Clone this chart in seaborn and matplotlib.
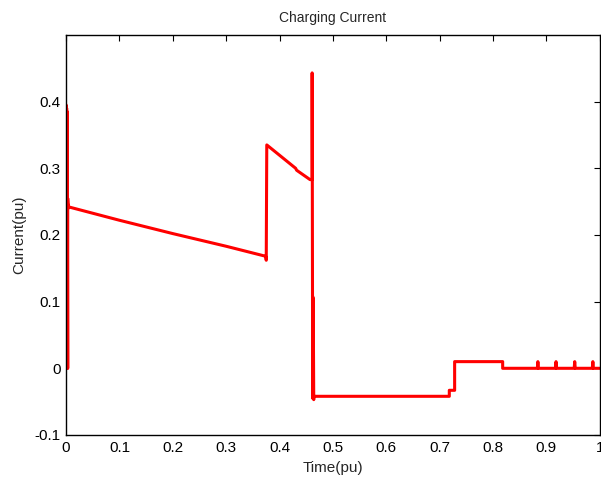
import matplotlib
matplotlib.use("Agg")
import matplotlib.pyplot as plt
import seaborn as sns
import pandas as pd

# Data
time_pu = [0.0, 0.0, 0.001, 0.001, 0.002, 0.002, 0.003, 0.003, 0.004, 0.004, 0.005,
           0.1, 0.2, 0.3, 0.374,
           0.375, 0.376, 0.43, 0.432, 0.457,
           0.461, 0.461, 0.462, 0.462, 0.463, 0.463, 0.464, 0.464,
           0.718, 0.718, 0.728, 0.728, 0.818, 0.818,
           0.883, 0.884, 0.885,
           0.917, 0.918, 0.919,
           0.952, 0.953, 0.954,
           0.986, 0.987, 0.988, 1.0]
current_pu = [0.0, 0.395, 0.0, 0.39, 0.0, 0.385, 0.0, 0.255, 0.24, 0.245, 0.242,
              0.222, 0.202, 0.183, 0.168,
              0.162, 0.335, 0.300, 0.297, 0.283,
              0.283, 0.443, -0.045, 0.108, -0.045, 0.105, -0.047, -0.042,
              -0.042, -0.033, -0.033, 0.01, 0.01, 0.0,
              0.0, 0.01, 0.0,
              0.0, 0.01, 0.0,
              0.0, 0.01, 0.0,
              0.0, 0.01, 0.0, 0.0]

x_ticks = [0, 0.1, 0.2, 0.3, 0.4, 0.5, 0.6, 0.7, 0.8, 0.9, 1]
x_tick_labels = ["0", "0.1", "0.2", "0.3", "0.4", "0.5", "0.6", "0.7", "0.8", "0.9", "1"]
y_ticks = [-0.1, 0, 0.1, 0.2, 0.3, 0.4]
y_tick_labels = ["-0.1", "0", "0.1", "0.2", "0.3", "0.4"]

df = pd.DataFrame({"Time": time_pu, "Current": current_pu})

sns.set_theme(style="white")
plt.rcParams['font.family'] = ['Liberation Sans', 'DejaVu Sans']

fig = plt.figure(figsize=(6.01, 4.78), dpi=100)
ax = fig.add_axes([0.11, 0.09, 0.888, 0.837])

sns.lineplot(data=df, x="Time", y="Current", sort=False, estimator=None,
             color="#ff0000", linewidth=2.2, ax=ax)

ax.set_xlim(0, 1)
ax.set_ylim(-0.1, 0.5)
ax.set_xticks(x_ticks)
ax.set_xticklabels(x_tick_labels)
ax.set_yticks(y_ticks)
ax.set_yticklabels(y_tick_labels)
ax.tick_params(direction="in", length=4, width=0.8, top=True, right=True,
               labelsize=11, colors="black", pad=4)
for s in ax.spines.values():
    s.set_color("black")
    s.set_linewidth(1.0)
ax.set_xlabel("Time(pu)", fontsize=11, labelpad=5)
ax.set_ylabel("Current(pu)", fontsize=11, labelpad=6)
ax.set_title("Charging Current", fontsize=10, pad=9)

fig.savefig("out.png", dpi=100)
